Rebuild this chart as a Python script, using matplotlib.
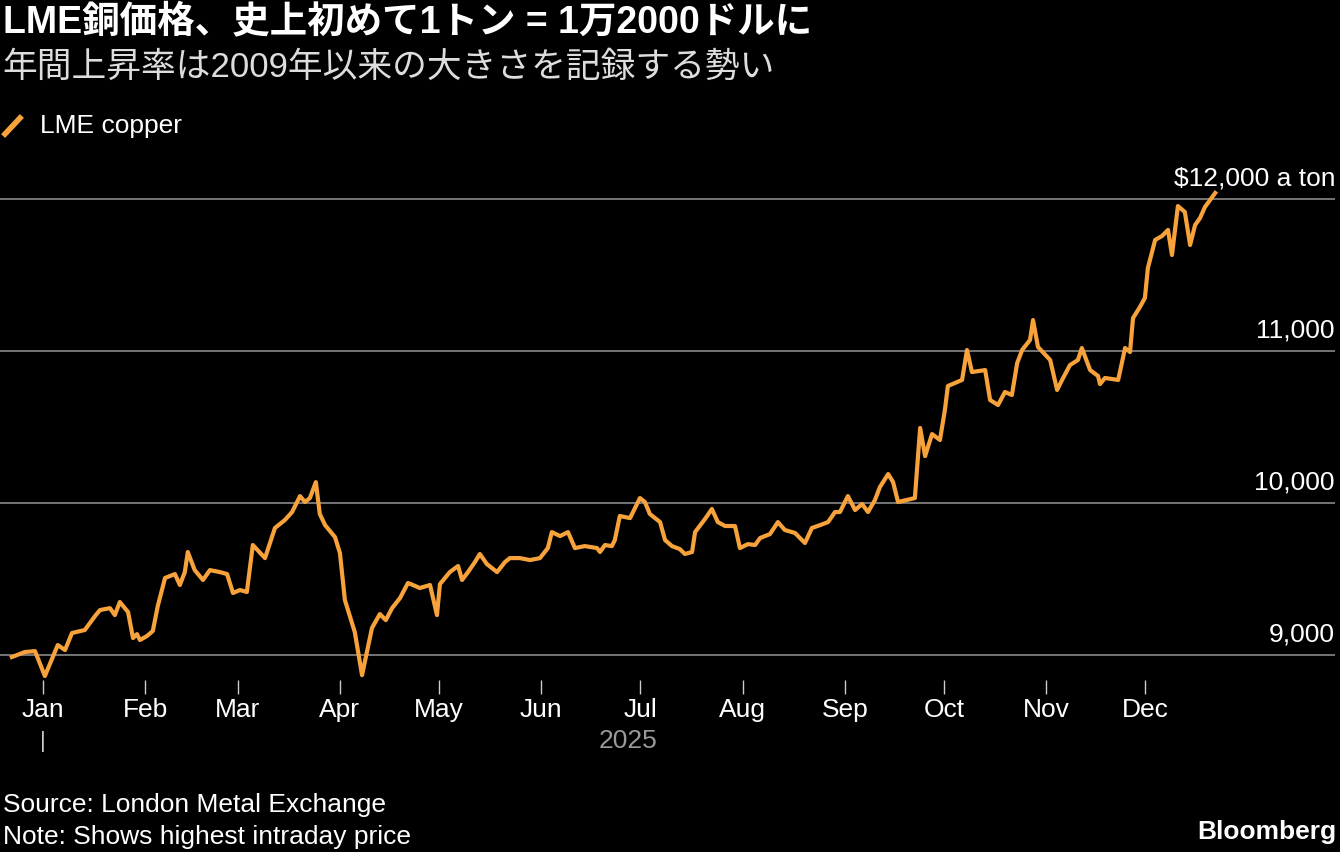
import matplotlib.pyplot as plt

plt.rcParams['font.family'] = ['Liberation Sans', 'Noto Sans CJK JP', 'DejaVu Sans']

# days from 2025-01-01, price in USD/ton
days = [-9.4, -5.5, -2.4, 0.6, 4.5, 6.7, 8.8, 12.7, 15.8, 17.3, 20.3, 21.8, 23.3, 25.8, 27.3, 28.5,
        29.4, 31.5, 33.3, 34.8, 37, 40, 41.5, 43, 43.9, 46, 48.5, 50.6, 53.6, 55.8, 57.6, 59.7,
        61.8, 63.6, 67.3, 70.3, 73.3, 75.5, 77.9, 79.4, 80.9, 82.7, 83.9, 85.5, 88.5, 90, 91.5,
        94.5, 96.7, 99.7, 102.1, 103.9, 105.8, 108.2, 110.6, 112.1, 114.2, 117.3, 119.4, 120.3,
        123.3, 125.8, 127, 128.8, 130.9, 132.4, 134.5, 137.6, 140, 141.5, 144.5, 147.6, 150.6,
        153, 154.2, 156.7, 159.1, 161.2, 164.2, 167.9, 168.8, 170.3, 172.4, 173.3, 174.8, 177.9,
        179.4, 180.9, 182.4, 183.9, 187, 188.5, 190.6, 193, 194.5, 196.7, 197.6, 200.6, 202.7,
        204.5, 206.7, 209.7, 211.2, 213.6, 215.8, 217.3, 220.3, 222.7, 224.8, 227.9, 230.9, 233,
        235.5, 237.9, 240, 241.5, 243.9, 246.1, 248.2, 250, 252.1, 253.6, 256.1, 257.6, 259.1,
        264.2, 265.8, 267.3, 269.4, 271.8, 273.3, 274.2, 278.5, 280, 281.5, 285.5, 287, 289.4,
        291.5, 293.6, 295.2, 296.7, 299.1, 300, 301.5, 305.2, 307.3, 308.8, 311.2, 313.6, 314.8,
        317.3, 319.7, 320.3, 321.8, 325.8, 327.9, 329.4, 330.3, 332.4, 333.9, 334.8, 337, 339.1,
        340.9, 342.1, 343.9, 346, 347.6, 349.1, 350.6, 352.1, 355.2]
price = [8987, 9020, 9026, 8862, 9066, 9033, 9145, 9165, 9257, 9296, 9309, 9263, 9349, 9283, 9112, 9138,
         9099, 9125, 9158, 9322, 9507, 9533, 9461, 9546, 9678, 9559, 9494, 9559, 9546, 9533, 9408, 9428,
         9415, 9724, 9638, 9836, 9888, 9941, 10046, 10007, 10033, 10138, 9928, 9855, 9776, 9671, 9362,
         9151, 8868, 9178, 9270, 9230, 9309, 9375, 9474, 9461, 9441, 9461, 9263, 9467,
         9546, 9586, 9494, 9546, 9612, 9665, 9599, 9546, 9612, 9638, 9638, 9625, 9638,
         9704, 9809, 9783, 9809, 9704, 9717, 9704, 9678, 9724, 9717, 9757, 9915, 9901,
         9967, 10033, 10007, 9928, 9875, 9757, 9717, 9697, 9665, 9678, 9809, 9895, 9961,
         9875, 9849, 9849, 9704, 9730, 9724, 9770, 9796, 9875, 9823, 9803, 9737, 9836,
         9855, 9875, 9941, 9941, 10046, 9954, 9994, 9941, 10020, 10105, 10191, 10138, 10007,
         10033, 10494, 10309, 10454, 10415, 10612, 10770, 10810, 11007, 10862, 10875, 10678, 10645,
         10731, 10711, 10921, 11007, 11073, 11204, 11027, 10941, 10744, 10810, 10908, 10941, 11020,
         10875, 10836, 10783, 10823, 10810, 11020, 10994, 11217, 11290, 11349, 11546, 11731, 11757,
         11797, 11632, 11954, 11915, 11698, 11829, 11875, 11948, 12040]

months = ['Jan', 'Feb', 'Mar', 'Apr', 'May', 'Jun', 'Jul', 'Aug', 'Sep', 'Oct', 'Nov', 'Dec']
month_days = [0, 31, 59, 90, 120, 151, 181, 212, 243, 273, 304, 334]
yticks = [9000, 10000, 11000, 12000]
ylabels = ['9,000', '10,000', '11,000', '$12,000 a ton']

orange = '#f7a23b'
fs = 19
fig = plt.figure(figsize=(13.4, 8.52), dpi=100, facecolor='black')
ax = fig.add_axes([0, 1 - 680 / 852, 1335 / 1340, 520 / 852], facecolor='black')
ax.plot(days, price, color=orange, lw=3, solid_joinstyle='round')
ax.set_xlim(-13, 391.5)
ax.set_ylim(8836, 12257)
for sp in ax.spines.values():
    sp.set_visible(False)
for v, lab in zip(yticks, ylabels):
    ax.axhline(v, color='#8a8a8a', lw=1.2, zorder=0)
    ax.text(1.0, v + 55, lab, transform=ax.get_yaxis_transform(), ha='right', va='bottom',
            color='white', fontsize=fs)
ax.set_yticks([])
ax.set_xticks(month_days)
ax.set_xticklabels(months)
ax.tick_params(axis='x', colors='white', labelsize=fs, length=10, width=1, pad=3, direction='out')
ax.tick_params(axis='x', color='#cccccc')

fig.text(43 / 1340, 1 - 742 / 852, '|', color='#cccccc', fontsize=16, ha='center', va='center')
fig.text(628 / 1340, 1 - 741 / 852, '2025', color='#999999', fontsize=fs, ha='center', va='center')

fig.text(0.002, 1 - 22 / 852, 'LME銅価格、史上初めて1トン = 1万2000ドルに', color='white',
         fontsize=27, fontweight='bold', va='center')
fig.text(0.002, 1 - 67 / 852, '年間上昇率は2009年以来の大きさを記録する勢い', color='#dddddd',
         fontsize=25, va='center')
fig.lines.append(plt.Line2D([5 / 1340, 20 / 1340], [1 - 134 / 852, 1 - 118 / 852], color=orange,
                            lw=4, transform=fig.transFigure, figure=fig))
fig.text(40 / 1340, 1 - 126 / 852, 'LME copper', color='white', fontsize=fs, va='center')

fig.text(0.002, 1 - 805 / 852, 'Source: London Metal Exchange', color='white', fontsize=fs, va='center')
fig.text(0.002, 1 - 837 / 852, 'Note: Shows highest intraday price', color='white', fontsize=fs, va='center')
fig.text(0.997, 1 - 832 / 852, 'Bloomberg', color='white', fontsize=fs, fontweight='bold',
         ha='right', va='center')

fig.savefig('out.png', dpi=100, facecolor='black')
